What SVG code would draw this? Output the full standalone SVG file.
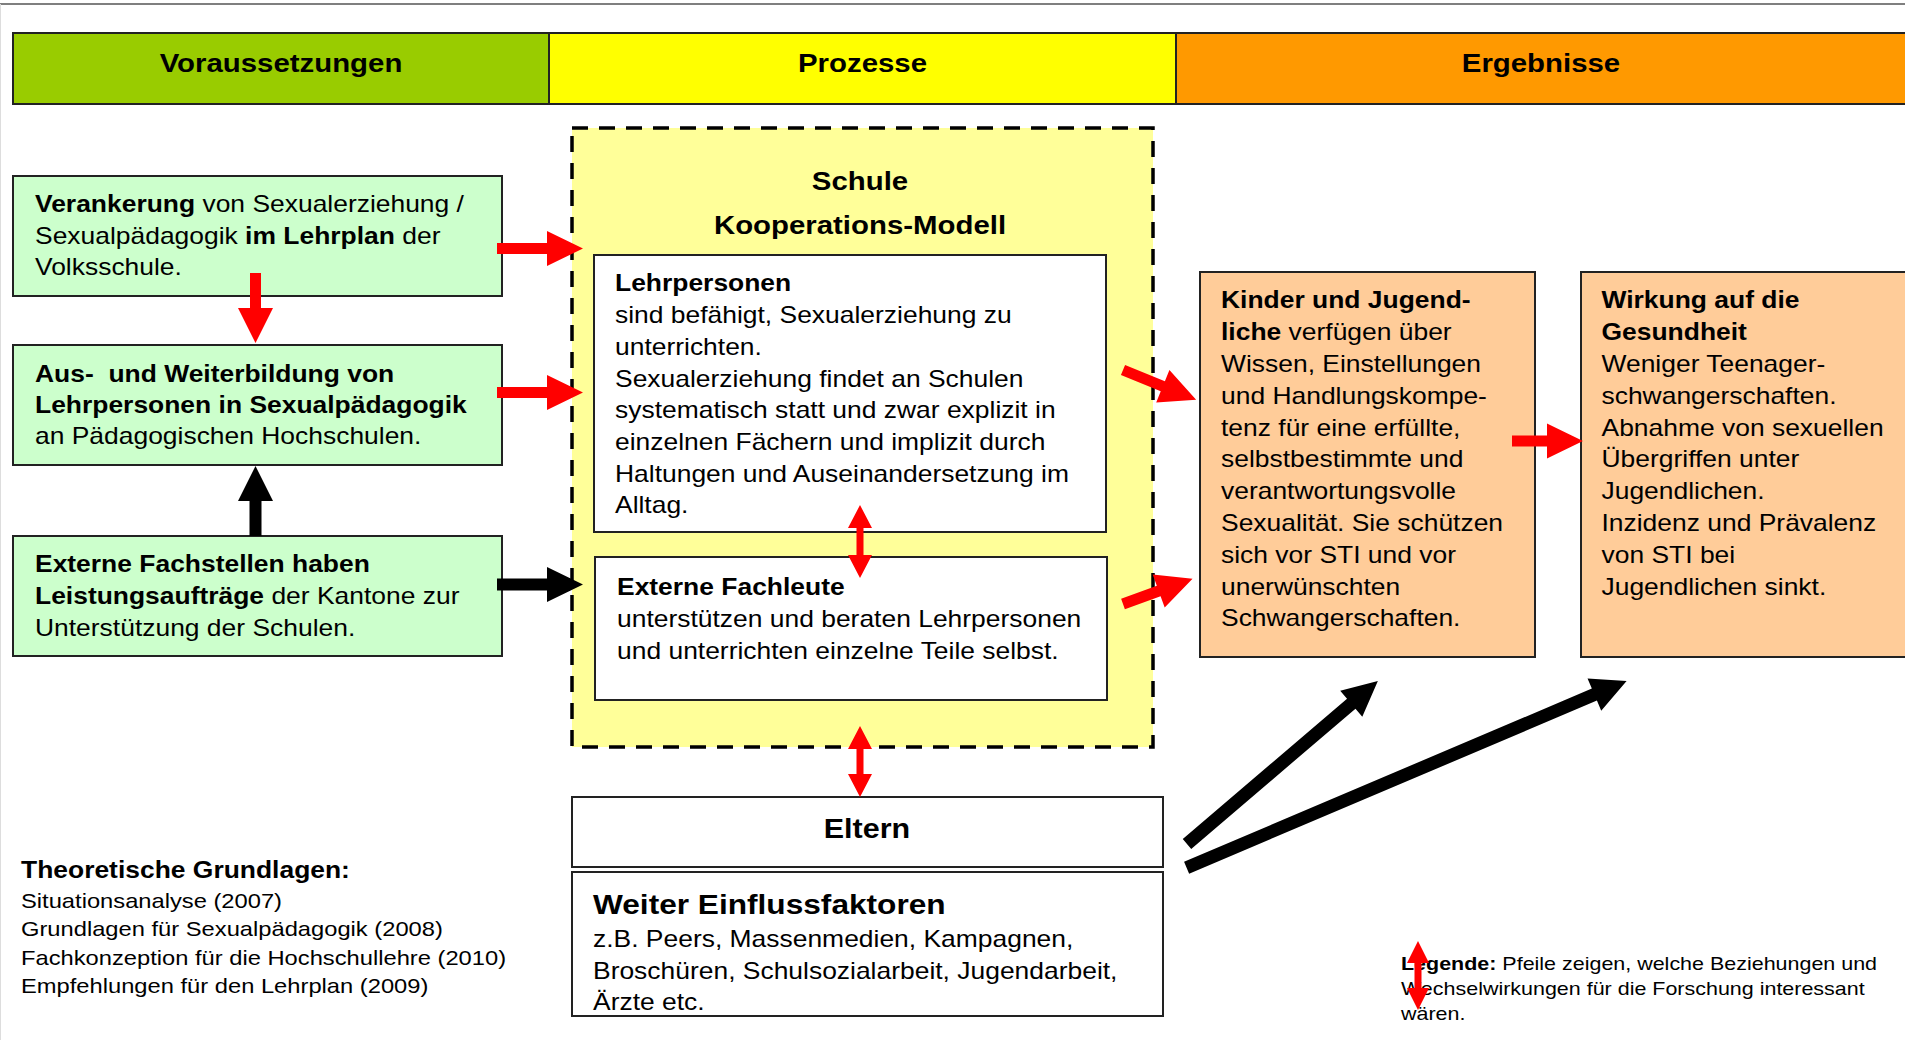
<svg xmlns="http://www.w3.org/2000/svg" width="1905" height="1040" viewBox="0 0 1905 1040">
<style>
text{font-family:"Liberation Sans",Arial,sans-serif;fill:#000}
.hd{font-size:26px;font-weight:bold;text-anchor:middle}
.bt{font-size:23.4px}
.b{font-weight:bold}
.box{stroke:#222;stroke-width:2}
.red{fill:#ff0000}
.blk{fill:#000}
</style>
<rect width="1905" height="1040" fill="#fff"/>
<line x1="0" y1="4" x2="1905" y2="4" stroke="#555" stroke-width="1.5"/>
<line x1="0.5" y1="4" x2="0.5" y2="1040" stroke="#ddd" stroke-width="1"/>

<g id="header">
<rect x="13" y="33" width="536" height="71" fill="#99cc00" class="box"/>
<rect x="549" y="33" width="627" height="71" fill="#ffff00" class="box"/>
<rect x="1176" y="33" width="732" height="71" fill="#ff9900" class="box"/>
<text class="hd" transform="matrix(1.13,0,0,1,281,0)" x="0" y="72">Voraussetzungen</text>
<text class="hd" transform="matrix(1.13,0,0,1,862.5,0)" x="0" y="72">Prozesse</text>
<text class="hd" transform="matrix(1.13,0,0,1,1541,0)" x="0" y="72">Ergebnisse</text>
</g>

<g id="verankerung">
<rect x="13" y="176" width="489" height="120" fill="#ccffcc" class="box"/>
<text class="bt" transform="matrix(1.13,0,0,1,35,0)"><tspan x="0" y="212"><tspan class="b">Verankerung</tspan> von Sexualerziehung /</tspan><tspan x="0" y="243.7">Sexualpädagogik <tspan class="b">im Lehrplan</tspan> der</tspan><tspan x="0" y="275.4">Volksschule.</tspan></text>
</g>

<g id="ausbildung">
<rect x="13" y="345" width="489" height="120" fill="#ccffcc" class="box"/>
<text class="bt" transform="matrix(1.13,0,0,1,35,0)"><tspan x="0" y="381.7" class="b">Aus-&#160; und Weiterbildung von</tspan><tspan x="0" y="413" class="b">Lehrpersonen in Sexualpädagogik</tspan><tspan x="0" y="444.5">an Pädagogischen Hochschulen.</tspan></text>
</g>

<g id="fachstellen">
<rect x="13" y="536" width="489" height="120" fill="#ccffcc" class="box"/>
<text class="bt" transform="matrix(1.13,0,0,1,35,0)"><tspan x="0" y="572.3" class="b">Externe Fachstellen haben</tspan><tspan x="0" y="604"><tspan class="b">Leistungsaufträge</tspan> der Kantone zur</tspan><tspan x="0" y="635.7">Unterstützung der Schulen.</tspan></text>
</g>

<g id="schule">
<rect x="572" y="128" width="581" height="619" fill="#ffff99" stroke="#000" stroke-width="3.5" stroke-dasharray="16 11"/>
<text class="hd" transform="matrix(1.13,0,0,1,860,0)" x="0" y="190.5">Schule</text>
<text class="hd" transform="matrix(1.13,0,0,1,860,0)" x="0" y="234.5">Kooperations-Modell</text>
</g>

<g id="lehrpersonen">
<rect x="594" y="255" width="512" height="277" fill="#fff" class="box"/>
<text class="bt" transform="matrix(1.13,0,0,1,615,0)"><tspan x="0" y="291.5" class="b">Lehrpersonen</tspan><tspan x="0" y="323.2">sind befähigt, Sexualerziehung zu</tspan><tspan x="0" y="354.9">unterrichten.</tspan><tspan x="0" y="386.6">Sexualerziehung findet an Schulen</tspan><tspan x="0" y="418.3">systematisch statt und zwar explizit in</tspan><tspan x="0" y="450">einzelnen Fächern und implizit durch</tspan><tspan x="0" y="481.7">Haltungen und Auseinandersetzung im</tspan><tspan x="0" y="513.4">Alltag.</tspan></text>
</g>

<g id="fachleute">
<rect x="595" y="557" width="512" height="143" fill="#fff" class="box"/>
<text class="bt" transform="matrix(1.13,0,0,1,617,0)"><tspan x="0" y="595" class="b">Externe Fachleute</tspan><tspan x="0" y="627">unterstützen und beraten Lehrpersonen</tspan><tspan x="0" y="659">und unterrichten einzelne Teile selbst.</tspan></text>
</g>

<g id="eltern">
<rect x="572" y="797" width="591" height="70" fill="#fff" class="box"/>
<text transform="matrix(1.13,0,0,1,867,0)" x="0" y="838" style="font-size:27px;font-weight:bold;text-anchor:middle">Eltern</text>
</g>

<g id="einflussfaktoren">
<rect x="572" y="872" width="591" height="144" fill="#fff" class="box"/>
<text transform="matrix(1.13,0,0,1,593,0)" x="0" y="914" style="font-size:28px;font-weight:bold">Weiter Einflussfaktoren</text>
<text class="bt" transform="matrix(1.13,0,0,1,593,0)"><tspan x="0" y="947.5">z.B. Peers, Massenmedien, Kampagnen,</tspan><tspan x="0" y="979">Broschüren, Schulsozialarbeit, Jugendarbeit,</tspan><tspan x="0" y="1010.5">Ärzte etc.</tspan></text>
</g>

<g id="kinder">
<rect x="1200" y="272" width="335" height="385" fill="#ffcc99" class="box"/>
<text class="bt" transform="matrix(1.13,0,0,1,1221,0)"><tspan x="0" y="308.5" class="b">Kinder und Jugend-</tspan><tspan x="0" y="340.3"><tspan class="b">liche</tspan> verfügen über</tspan><tspan x="0" y="372.1">Wissen, Einstellungen</tspan><tspan x="0" y="403.9">und Handlungskompe-</tspan><tspan x="0" y="435.7">tenz für eine erfüllte,</tspan><tspan x="0" y="467.5">selbstbestimmte und</tspan><tspan x="0" y="499.3">verantwortungsvolle</tspan><tspan x="0" y="531.1">Sexualität. Sie schützen</tspan><tspan x="0" y="562.9">sich vor STI und vor</tspan><tspan x="0" y="594.7">unerwünschten</tspan><tspan x="0" y="626.5">Schwangerschaften.</tspan></text>
</g>

<g id="wirkung">
<rect x="1581" y="272" width="330" height="385" fill="#ffcc99" class="box"/>
<text class="bt" transform="matrix(1.13,0,0,1,1601.5,0)"><tspan x="0" y="308.5" class="b">Wirkung auf die</tspan><tspan x="0" y="340.3" class="b">Gesundheit</tspan><tspan x="0" y="372.1">Weniger Teenager-</tspan><tspan x="0" y="403.9">schwangerschaften.</tspan><tspan x="0" y="435.7">Abnahme von sexuellen</tspan><tspan x="0" y="467.5">Übergriffen unter</tspan><tspan x="0" y="499.3">Jugendlichen.</tspan><tspan x="0" y="531.1">Inzidenz und Prävalenz</tspan><tspan x="0" y="562.9">von STI bei</tspan><tspan x="0" y="594.7">Jugendlichen sinkt.</tspan></text>
</g>

<g id="grundlagen">
<text transform="matrix(1.13,0,0,1,21,0)" x="0" y="878" style="font-size:23.4px;font-weight:bold">Theoretische Grundlagen:</text>
<text transform="matrix(1.13,0,0,1,21,0)" style="font-size:21px"><tspan x="0" y="908">Situationsanalyse (2007)</tspan><tspan x="0" y="936.5">Grundlagen für Sexualpädagogik (2008)</tspan><tspan x="0" y="965">Fachkonzeption für die Hochschullehre (2010)</tspan><tspan x="0" y="993.5">Empfehlungen für den Lehrplan (2009)</tspan></text>
</g>

<g id="legende">
<text transform="matrix(1.13,0,0,1,1401,0)" style="font-size:19px"><tspan x="0" y="970"><tspan class="b">Legende:</tspan> Pfeile zeigen, welche Beziehungen und</tspan><tspan x="0" y="995">Wechselwirkungen für die Forschung interessant</tspan><tspan x="0" y="1020">wären.</tspan></text>
</g>

<g id="connectors">
<path class="red" transform="translate(497,248.5)" d="M0,-5.5H50V-17.5L86,0L50,17.5V5.5H0Z"/>
<path class="red" transform="translate(497,392.5)" d="M0,-5.5H50V-17.5L86,0L50,17.5V5.5H0Z"/>
<path class="blk" transform="translate(497,584.5)" d="M0,-6H50V-17.5L86,0L50,17.5V6H0Z"/>
<path class="red" transform="translate(255.5,273) rotate(90)" d="M0,-5.5H35V-17.5L70,0L35,17.5V5.5H0Z"/>
<path class="blk" transform="translate(255.5,536) rotate(-90)" d="M0,-6H35V-17.5L70,0L35,17.5V6H0Z"/>
<path class="red" transform="translate(1123,370) rotate(22.2)" d="M0,-5.5H43V-17.5L79,0L43,17.5V5.5H0Z"/>
<path class="red" transform="translate(1123,604) rotate(-20)" d="M0,-5.5H38V-17.5L74,0L38,17.5V5.5H0Z"/>
<path class="red" transform="translate(1512,441)" d="M0,-5.5H35V-17.5L71,0L35,17.5V5.5H0Z"/>
<path class="blk" transform="translate(1187,844) rotate(-40.5)" d="M0,-6.5H216V-17L251,0L216,17V6.5H0Z"/>
<path class="blk" transform="translate(1186.6,867.7) rotate(-23)" d="M0,-6.5H443V-17.5L478,0L443,17.5V6.5H0Z"/>
<path class="red" d="M860,505L872,528H863.5V555H872L860,578L848,555H856.5V528H848Z"/>
<path class="red" d="M860,726L872,749H863.5V774H872L860,797L848,774H856.5V749H848Z"/>
<path class="red" d="M1418,941L1429,963H1421.5V988H1429L1418,1010L1407,988H1414.5V963H1407Z"/>
</g>
</svg>
